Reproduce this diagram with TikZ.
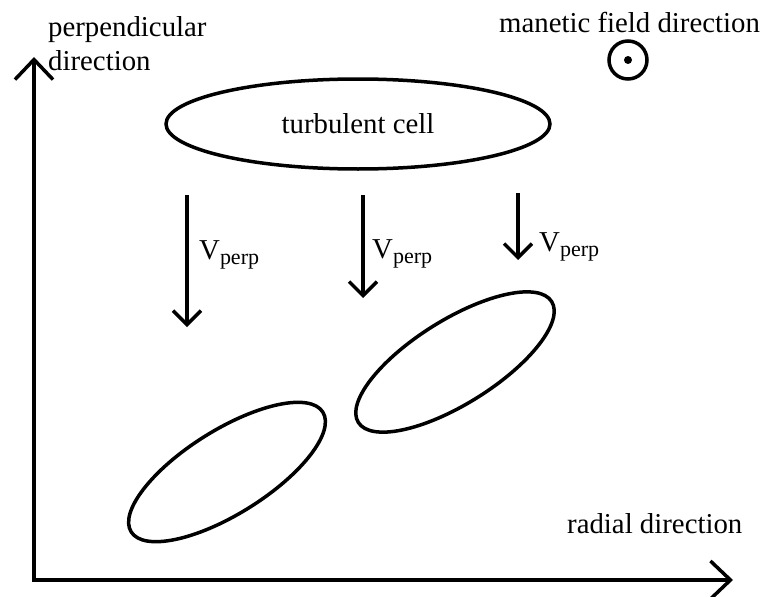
\documentclass[tikz,border=0pt]{standalone}
\usepackage{fontspec}
\setmainfont{Liberation Serif}
\usepackage{tikz}
\usetikzlibrary{calc, positioning, arrows.meta, shapes.geometric}
\newcommand{\velperp}{V\raisebox{-5pt}{\fontsize{22}{22}\selectfont perp}}

\begin{document}
\begin{tikzpicture}[x=1pt, y=1pt, font=\fontsize{28.8}{34}\selectfont]
    % Estilos
    \tikzstyle{axis} = [draw, line width=3.5pt, {Straight Barb[length=20pt, width=38pt]}-{Straight Barb[length=20pt, width=38pt]}]
    \tikzstyle{vel} = [draw, line width=3.5pt, -{Straight Barb[length=14pt, width=28pt]}]
    \tikzstyle{cell} = [ellipse, draw, line width=3.5pt, inner sep=0pt]
    \tikzstyle{label} = [inner sep=0pt, anchor=base west]

    \useasboundingbox (0,0) rectangle (761,-597);

    % Eixos
    \coordinate (origin) at (34,-580);
    \coordinate (ytip) at (34,-57);
    \coordinate (xtip) at (733,-580);
    \path [axis] (ytip) -- (origin) -- (xtip);
    \node [inner sep=0pt, anchor=north west, align=left] (ylabel) at (48,-16) {perpendicular\\direction};
    \node [label] (xlabel) at (567,-533) {radial direction};

    % Campo magnetico
    \node [label] (blabel) at (499,-32) {manetic field direction};
    \node [circle, draw, line width=3.5pt, minimum size=38pt, inner sep=0pt] (bfield) at (628,-60) {};
    \fill (bfield.center) circle (4pt);

    % Celula turbulenta
    \node [cell, minimum width=384pt, minimum height=90pt] (turb) at (358,-124) {turbulent cell};

    % Velocidades
    \coordinate (v1s) at (187,-195);
    \coordinate (v1e) at (187,-327);
    \coordinate (v2s) at (363,-195);
    \coordinate (v2e) at (363,-298);
    \coordinate (v3s) at (518,-193);
    \coordinate (v3e) at (518,-260);
    \path [vel] (v1s) -- (v1e);
    \path [vel] (v2s) -- (v2e);
    \path [vel] (v3s) -- (v3e);
    \node [label] (v1label) at (199,-259) {\velperp};
    \node [label] (v2label) at (372,-258) {\velperp};
    \node [label] (v3label) at (539,-251) {\velperp};

    % Celulas inclinadas
    \node [cell, rotate=32, minimum width=226pt, minimum height=84pt] (eddyA) at (227,-472) {};
    \node [cell, rotate=32, minimum width=228pt, minimum height=84pt] (eddyB) at (455,-362) {};
\end{tikzpicture}
\end{document}
